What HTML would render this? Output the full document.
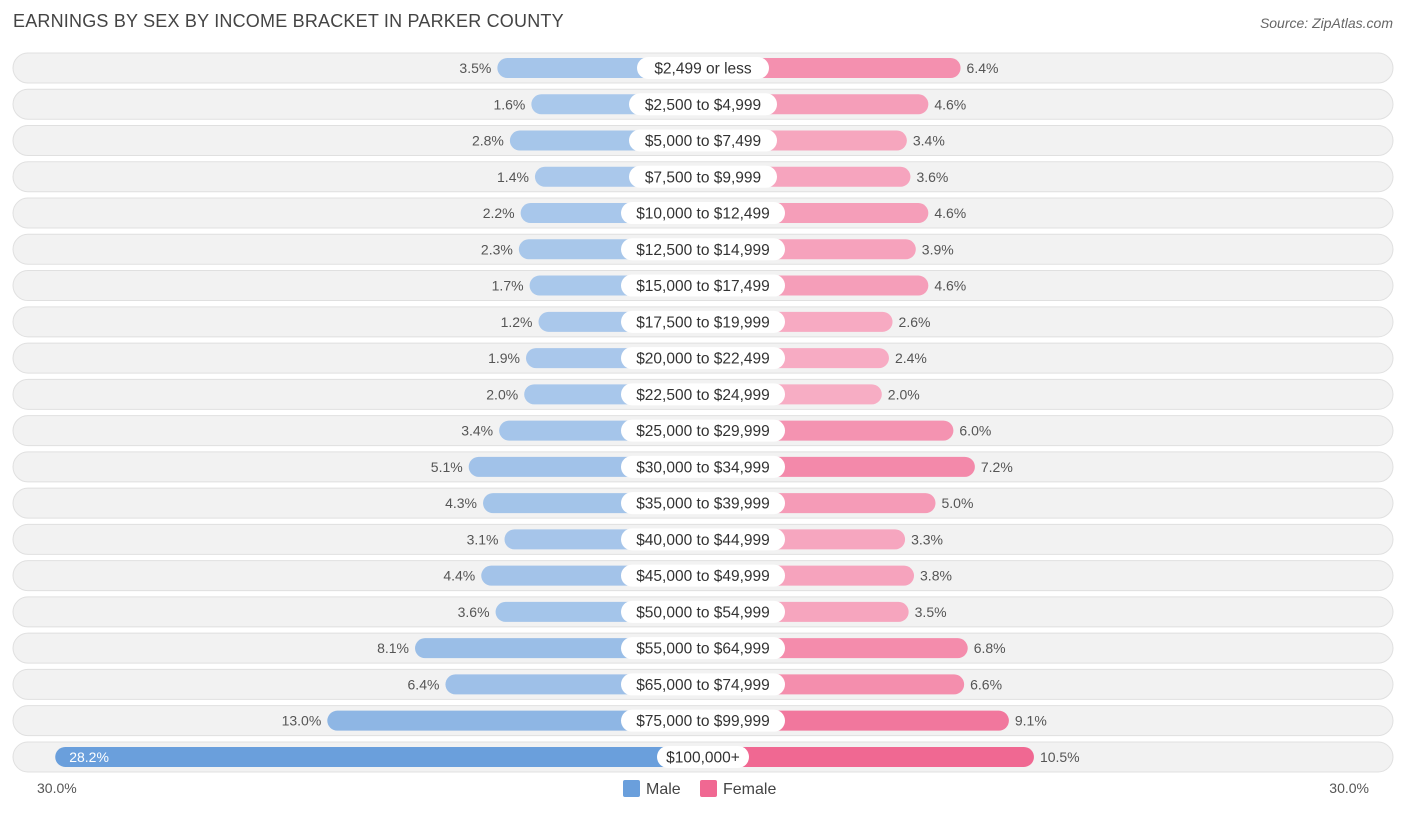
<!DOCTYPE html>
<html><head><meta charset="utf-8">
<style>
body{margin:0;background:#fff;font-family:"Liberation Sans",sans-serif;}
#wrap{position:relative;width:1406px;height:813px;overflow:hidden;}
.title{position:absolute;left:13px;top:11px;font-size:18px;color:#444;letter-spacing:0.2px;}
.src{position:absolute;right:13px;top:15px;font-size:14px;color:#666;font-style:italic;}
</style></head><body>
<div id="wrap">
<div class="title">EARNINGS BY SEX BY INCOME BRACKET IN PARKER COUNTY</div>
<div class="src">Source: ZipAtlas.com</div>
<svg id="svg" width="1406" height="813" style="position:absolute;left:0;top:0"></svg>
</div>
<script>
const categories=["$2,499 or less","$2,500 to $4,999","$5,000 to $7,499","$7,500 to $9,999","$10,000 to $12,499","$12,500 to $14,999","$15,000 to $17,499","$17,500 to $19,999","$20,000 to $22,499","$22,500 to $24,999","$25,000 to $29,999","$30,000 to $34,999","$35,000 to $39,999","$40,000 to $44,999","$45,000 to $49,999","$50,000 to $54,999","$55,000 to $64,999","$65,000 to $74,999","$75,000 to $99,999","$100,000+"];
const maleValues=[3.5,1.6,2.8,1.4,2.2,2.3,1.7,1.2,1.9,2.0,3.4,5.1,4.3,3.1,4.4,3.6,8.1,6.4,13.0,28.2];
const femaleValues=[6.4,4.6,3.4,3.6,4.6,3.9,4.6,2.6,2.4,2.0,6.0,7.2,5.0,3.3,3.8,3.5,6.8,6.6,9.1,10.5];
const axisLabels=["30.0%","30.0%"];
const NS="http://www.w3.org/2000/svg";
const svg=document.getElementById('svg');
const cx=703, pxPer=17.9, base=143;
function len(v){return base+v*pxPer;}
function rowY(i){return 68+i*36.26;}
function mk(t,a){const e=document.createElementNS(NS,t);for(const k in a)e.setAttribute(k,a[k]);svg.appendChild(e);return e;}
function mix(c,a){return 'rgb('+c.map(x=>Math.round(255-(255-x)*a)).join(',')+')';}
const maxM=Math.max(...maleValues), maxF=Math.max(...femaleValues);
categories.forEach((c,i)=>{
  const y=rowY(i);
  const bg=mk('rect',{x:13,y:y-15,width:1380,height:30,rx:15,fill:'#f2f2f2',stroke:'#e0e0e0','stroke-width':1});
  
  
  const mv=maleValues[i],fv=femaleValues[i];
  const ml=len(mv),fl=len(fv);
  const ma=0.55+0.45*mv/maxM, fa=0.5+0.5*Math.pow(fv/maxF,1.5);
  const mb=mk('rect',{x:cx-ml,y:y-10,width:ml,height:20,rx:10,fill:mix([106,159,220],ma)});
  
  
  const fb=mk('rect',{x:cx,y:y-10,width:fl,height:20,rx:10,fill:mix([240,104,146],fa)});
  
  
  const inside=mv>20;
  const mt=mk('text',{x:inside?cx-ml+14:cx-ml-6,y:y+5,'font-size':14,fill:inside?'#fff':'#555','text-anchor':inside?'start':'end'});
  mt.textContent=mv.toFixed(1)+'%';
  
  
  const ft=mk('text',{x:cx+fl+6,y:y+5,'font-size':14,fill:'#555'});
  ft.textContent=fv.toFixed(1)+'%';
  
  
  const w=c.length*8+20;
  const pill=mk('rect',{x:cx-w/2,y:y-11,width:w,height:22,rx:11,fill:'#fff'});
  
  
  const ct=mk('text',{x:cx,y:y+5.5,'font-size':15.5,fill:'#333','text-anchor':'middle'});
  ct.textContent=c;
  
  
});
const al=mk('text',{x:37,y:793,'font-size':14,fill:'#555'});al.textContent=axisLabels[0];


const ar=mk('text',{x:1369,y:793,'font-size':14,fill:'#555','text-anchor':'end'});ar.textContent=axisLabels[1];


const lm=mk('rect',{x:623,y:780,width:17,height:17,rx:2,fill:'#6a9fdc'});


const lmt=mk('text',{x:646,y:794,'font-size':16,fill:'#444'});lmt.textContent='Male';


const lf=mk('rect',{x:700,y:780,width:17,height:17,rx:2,fill:'#f06892'});


const lft=mk('text',{x:723,y:794,'font-size':16,fill:'#444'});lft.textContent='Female';


</script>
</body></html>
